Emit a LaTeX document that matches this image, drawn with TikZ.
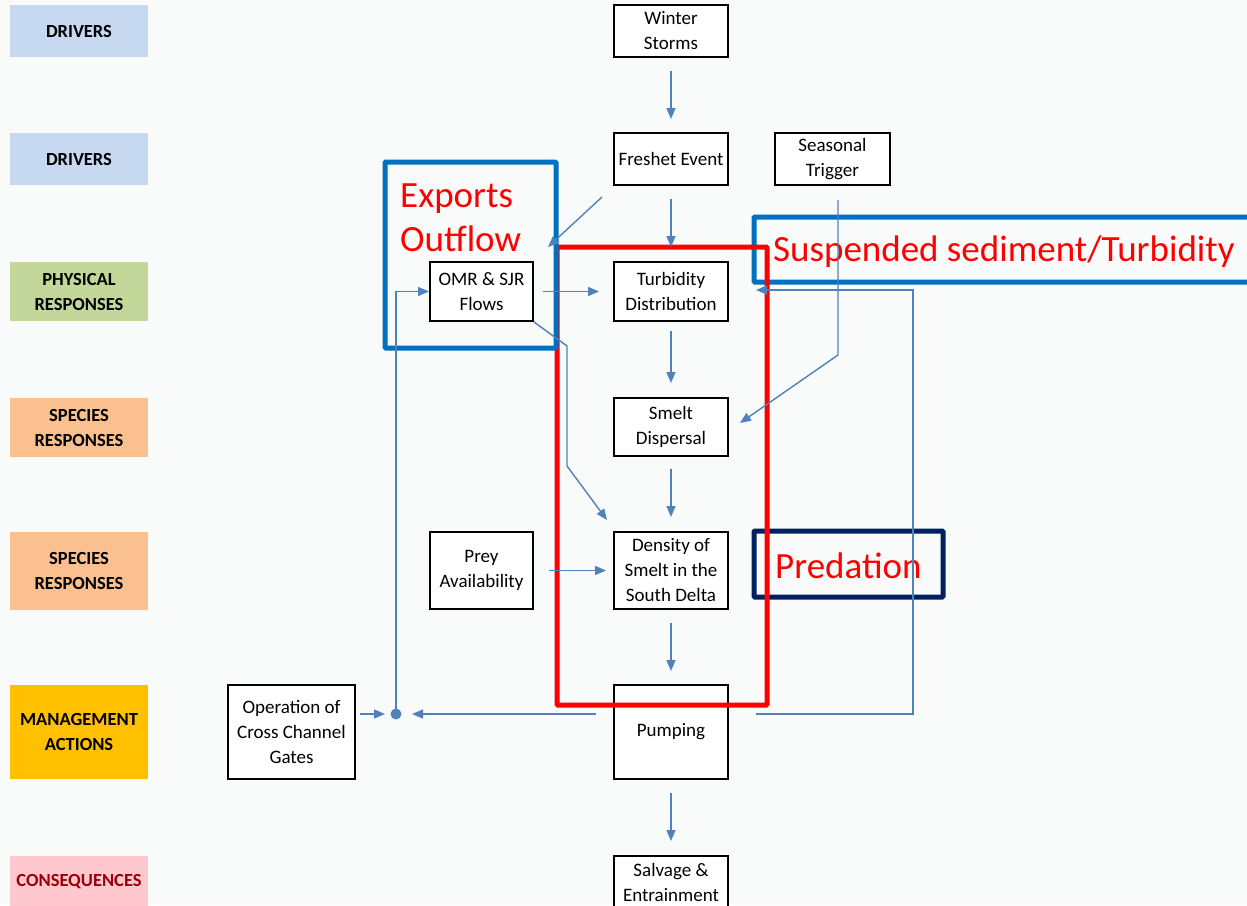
\documentclass[tikz,border=0pt]{standalone}
\usepackage{fontspec}
\setmainfont{Carlito}
\usetikzlibrary{arrows.meta,calc}
\definecolor{bg}{RGB}{249,250,250}
\definecolor{arrblue}{RGB}{79,129,189}
\definecolor{drvblue}{RGB}{198,217,241}
\definecolor{physgreen}{RGB}{196,215,155}
\definecolor{specorange}{RGB}{250,192,144}
\definecolor{mgmtgold}{RGB}{255,192,0}
\definecolor{conspink}{RGB}{255,199,206}
\definecolor{consred}{RGB}{156,0,6}
\definecolor{hlblue}{RGB}{0,112,192}
\definecolor{navy}{RGB}{0,32,96}
\tikzset{
  flowbox/.style={draw=black, line width=2pt, fill=white, align=center, inner sep=1pt,
    font=\fontsize{19}{25}\selectfont},
  lvl/.style={fill=#1, align=center, minimum width=138pt, inner sep=0pt,
    font=\fontsize{18.5}{25}\selectfont\bfseries},
  arr/.style={draw=arrblue, line width=1.4pt, -{Triangle[length=11pt,width=9pt]}},
  hlbox/.style={draw=#1, line width=5pt, rounded corners=1pt},
  bigred/.style={text=red, font=\fontsize{37}{44}\selectfont, align=left, inner sep=0pt}
}
\begin{document}
\begin{tikzpicture}[x=1pt,y=-1pt]
\useasboundingbox (0,0) rectangle (1247,905);
\fill[bg] (0,0) rectangle (1247,905);

% level labels
\node[lvl=drvblue, minimum height=52pt] (l1) at (79,31) {DRIVERS};
\node[lvl=drvblue, minimum height=52pt] (l2) at (79,159) {DRIVERS};
\node[lvl=physgreen, minimum height=59pt] (l3) at (79,291.5) {PHYSICAL\\RESPONSES};
\node[lvl=specorange, minimum height=59pt] (l4) at (79,427.5) {SPECIES\\RESPONSES};
\node[lvl=specorange, minimum height=78pt] (l5) at (79,571) {SPECIES\\RESPONSES};
\node[lvl=mgmtgold, minimum height=94pt] (l6) at (79,732) {MANAGEMENT\\ACTIONS};
\node[lvl=conspink, minimum height=52pt, text=consred] (l7) at (79,882) {CONSEQUENCES};

% highlight boxes (behind)
\draw[hlbox=hlblue] (754,217) rectangle (1260,282);
\node[bigred, anchor=west] (sst) at (773,252) {Suspended sediment/Turbidity};
\draw[hlbox=navy] (754,531) rectangle (943,597);
\node[bigred, anchor=west] (pred) at (775,566) {Predation};

% flow boxes
\node[flowbox, minimum width=114pt, minimum height=52pt] (winter) at (671,31) {Winter\\Storms};
\node[flowbox, minimum width=114pt, minimum height=52pt] (freshet) at (671,159) {Freshet Event};
\node[flowbox, minimum width=115pt, minimum height=52pt] (seasonal) at (832.5,159) {Seasonal\\Trigger};
\node[flowbox, minimum width=103pt, minimum height=59pt] (omr) at (481.5,291.5) {OMR \& SJR\\Flows};
\node[flowbox, minimum width=114pt, minimum height=59pt] (turb) at (671,291.5) {Turbidity\\Distribution};
\node[flowbox, minimum width=114pt, minimum height=58pt] (disp) at (671,427) {Smelt\\Dispersal};
\node[flowbox, minimum width=103pt, minimum height=77pt] (prey) at (481.5,570.5) {Prey\\Availability};
\node[flowbox, minimum width=114pt, minimum height=77pt] (dens) at (671,570.5) {Density of\\Smelt in the\\South Delta};
\node[flowbox, minimum width=114pt, minimum height=94pt] (pump) at (671,732) {\raisebox{-3pt}{Pumping}};
\node[flowbox, minimum width=127pt, minimum height=94pt] (gates) at (291.5,732) {Operation of\\Cross Channel\\Gates};
\node[flowbox, minimum width=114pt, minimum height=52pt] (salv) at (671,882) {Salvage \&\\Entrainment};

% red overlay
\draw[red, line width=5pt, rounded corners=1pt] (557,247) rectangle (767,705);
% exports box
\draw[hlbox=hlblue] (385,162) rectangle (556,348);
\node[bigred, anchor=west] (exp) at (400,218) {Exports\\Outflow};

% coordinates
\coordinate (fdiagS) at (602,197);
\coordinate (fdiagE) at (548,247);
\coordinate (strig) at (838,200);
\coordinate (sbend) at (838,355);
\coordinate (dispR) at (740,423);
\coordinate (o1) at (567,346);
\coordinate (o2) at (567,466);
\coordinate (densTL) at (607,520);
\coordinate (pumpL) at (596,714);
\coordinate (dotR) at (412,714);
\coordinate (pumpR) at (756,714);
\coordinate (loopT) at (913,290);
\coordinate (turbR) at (756,290);
\coordinate (gatesR) at (360,714);
\coordinate (dotL) at (385,714);
\coordinate (dot) at (396,714);

% connectors
\draw[arr, shorten <=13pt, shorten >=13pt] (winter) -- (freshet);
\draw[arr, shorten <=13pt, shorten >=14pt] (freshet) -- (turb);
\draw[arr, shorten <=9pt, shorten >=14pt] (turb) -- (disp);
\draw[arr, shorten <=12pt, shorten >=14pt] (disp) -- (dens);
\draw[arr, shorten <=13pt, shorten >=13pt] (dens) -- (pump);
\draw[arr, shorten <=13pt, shorten >=14pt] (pump) -- (salv);
\draw[arr, shorten <=9pt, shorten >=14pt] (omr) -- (turb);
\draw[arr, shorten <=15pt, shorten >=7pt] (prey) -- (dens);
\draw[arr] (fdiagS) -- (fdiagE);
\draw[arr] (strig) -- (sbend) -- (dispR);
\draw[arr] (omr.south east) -- (o1) -- (o2) -- (densTL);
\draw[arr] (pumpL) -- (dotR);
\draw[arr] (gatesR) -- (dotL);
\draw[arr] (dot) |- (omr.west);
\draw[arr] (pumpR) -| (loopT) -- (turbR);
\fill[arrblue] (dot) circle (5.5pt);
\end{tikzpicture}
\end{document}
